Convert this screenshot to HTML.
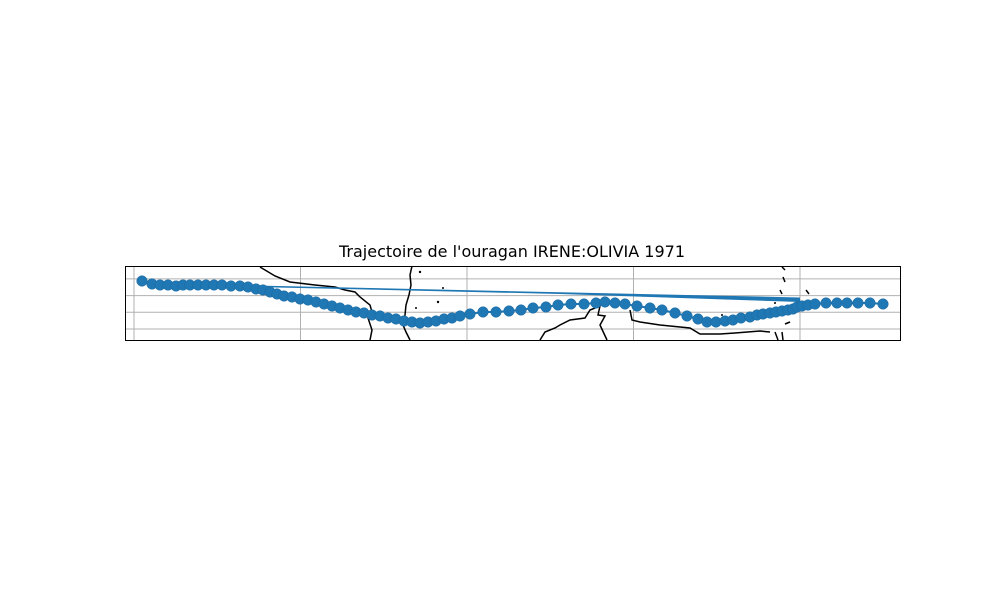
<!DOCTYPE html>
<html><head><meta charset="utf-8"><style>
body{margin:0;background:#fff;width:1000px;height:600px;overflow:hidden;font-family:"Liberation Sans",sans-serif}
</style></head><body>
<svg width="1000" height="600" viewBox="0 0 1000 600">
<text x="512" y="257" text-anchor="middle" font-size="16" font-family="DejaVu Sans, Liberation Sans, sans-serif">Trajectoire de l'ouragan IRENE:OLIVIA 1971</text>
<g id="grid"></g>
<g fill="none" stroke="#000" stroke-width="1.5">
<path d="M260,267 L275,276 L290,282 L315,285 L335,287 L345,290 L355,292 L360,297 L370,305 L372,312 L368,318 L372,330 L370,340"/>
<path d="M412,266 L410,275 L411,285 L409,295 L406,305 L405,315 L403,325 L406,332 L410,340"/>
<path d="M540,340 L545,332 L555,328 L560,325 L570,320 L585,318 L590,310 L600,306 L598,315 L605,316 L600,325 L607,340"/>
<path d="M630,310 L632,320 L640,322 L660,325 L690,328 L700,334 L720,334 L735,333 L760,331 L770,332"/>
<path d="M775,332 L778,340"/><path d="M782,332 L783,340"/>
<path d="M785,324 L790,322"/><path d="M806,290 L809,294"/><path d="M780,290 L782,294"/><path d="M783,277 L785,282"/><path d="M782,267 L785,270"/>
</g>
<g fill="#000">
<circle cx="420" cy="272" r="1.2"/><circle cx="438" cy="302" r="1.2"/><circle cx="416" cy="308" r="1"/><circle cx="443" cy="288" r="1"/><circle cx="722" cy="315" r="1"/><circle cx="775" cy="303" r="1"/>
</g>
<polygon points="255,285.5 800,297.5 800,302 560,294 255,287" fill="#1f77b4"/>
<g id="track"></g>
<rect x="125.5" y="266.5" width="775" height="74" fill="none" stroke="#000" stroke-width="1"/>
</svg>
<script>
const lonGrid=[0,60,120,180,240];
const latGrid=[30,20,10,0];
const trackX=[142,152,160,168,176,183,190,198,206,214,222,231,240,248,256,263,270,277,284,292,300,308,316,324,332,340,348,356,364,372,380,388,396,404,412,420,428,436,444,452,460,470,483,496,509,521,533,546,558,571,584,596,605,615,625,637,650,662,675,687,698,707,716,725,733,741,750,757,763,770,776,782,788,793,797,802,808,815,826,837,847,858,870,883];
const trackY=[281,284,285,285,286,285,285,285,285,285,285,286,286,287,289,290,292,294,296,297,299,300,302,304,306,308,310,312,313,315,316,318,319,321,322,323,322,321,319,318,316,314,312,312,311,310,308,307,305,304,304,303,302,303,304,306,308,310,313,316,319,322,322,321,320,318,317,315,314,313,312,311,310,309,307,306,305,304,303,303,303,303,303,304];
const trackLon=trackX.map(p=>(p-134)/2.775);
const trackLat=trackY.map(p=>(329-p)/1.67);
function xs(lon){return 134+lon*2.775;}
function ys(lat){return 329-lat*1.67;}
const NS='http://www.w3.org/2000/svg';
const g=document.getElementById('grid');
lonGrid.forEach(v=>{const l=document.createElementNS(NS,'line');
l.setAttribute('x1',xs(v));l.setAttribute('x2',xs(v));l.setAttribute('y1',266);l.setAttribute('y2',340);
l.setAttribute('stroke','#b0b0b0');l.setAttribute('stroke-width','1');


g.appendChild(l);});
latGrid.forEach(v=>{const l=document.createElementNS(NS,'line');
l.setAttribute('y1',ys(v));l.setAttribute('y2',ys(v));l.setAttribute('x1',125);l.setAttribute('x2',900);
l.setAttribute('stroke','#b0b0b0');l.setAttribute('stroke-width','1');


g.appendChild(l);});
const t=document.getElementById('track');
const pl=document.createElementNS(NS,'polyline');
pl.setAttribute('points',trackLon.map((v,i)=>xs(v)+','+ys(trackLat[i])).join(' '));
pl.setAttribute('fill','none');pl.setAttribute('stroke','#1f77b4');pl.setAttribute('stroke-width','2');


t.appendChild(pl);
trackLon.forEach((v,i)=>{const c=document.createElementNS(NS,'circle');
c.setAttribute('cx',xs(v));c.setAttribute('cy',ys(trackLat[i]));c.setAttribute('r','5.3');
c.setAttribute('fill','#1f77b4');c.setAttribute('stroke','#1b6aa0');c.setAttribute('stroke-width','0.5');


t.appendChild(c);});
</script>
</body></html>
